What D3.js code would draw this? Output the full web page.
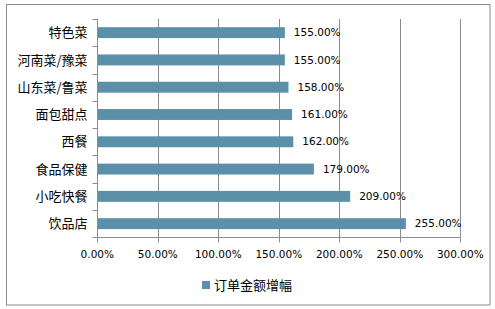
<!DOCTYPE html>
<html><head><meta charset="utf-8">
<script src="https://cdn.jsdelivr.net/npm/d3@7"></script>
<style>body{margin:0;background:#fff}svg{display:block}</style>
</head><body>
<svg id="c" width="495" height="309"></svg>
<script>
const categories = ["特色菜","河南菜/豫菜","山东菜/鲁菜","面包甜点","西餐","食品保健","小吃快餐","饮品店"];
const values = [155,155,158,161,162,179,209,255];
const ticks = [0,50,100,150,200,250,300];
const seriesName = "订单金额增幅";

const svg = d3.select("#c");
const W=495,H=309;
const m={left:97.3,right:460.3,top:19,bottom:237.3};
const color="#5b90a8", grid="#8c8c8c";
const cjk="'Noto Sans CJK SC','Noto Sans',sans-serif";
const num="'DejaVu Sans',sans-serif";

svg.append("rect").attr("x",6.5).attr("y",4.5).attr("width",483.5).attr("height",300.5)
  .attr("fill","#fff").attr("stroke",grid).attr("stroke-width",1);

const x=d3.scaleLinear().domain([0,300]).range([m.left,m.right]);
const y=d3.scaleBand().domain(categories).range([m.top,m.bottom]).paddingInner(0.6).paddingOuter(0.3);
const yb=d3.scaleBand().domain(categories).range([m.top,m.bottom]);

// gridlines
svg.append("g").selectAll("line").data(ticks.slice(1)).join("line")
  .attr("x1",d=>Math.round(x(d))+0.5).attr("x2",d=>Math.round(x(d))+0.5)
  .attr("y1",m.top).attr("y2",m.bottom).attr("stroke",grid).attr("stroke-width",1);

// bars
svg.append("g").selectAll("rect").data(values).join("rect")
  .attr("x",x(0)).attr("y",(d,i)=>y(categories[i]))
  .attr("width",d=>x(d)-x(0)).attr("height",y.bandwidth()).attr("fill",color);

// value labels
svg.append("g").selectAll("text").data(values).join("text")
  .attr("x",d=>x(d)+9).attr("y",(d,i)=>y(categories[i])+y.bandwidth()/2)
  .attr("dy","0.35em").attr("font-family",num).attr("font-size",10.5).attr("fill","#000")
  .text(d=>d.toFixed(2)+"%");

// y axis
const ya=svg.append("g").attr("transform",`translate(${Math.round(m.left)+0.5},0)`);
ya.append("line").attr("y1",m.top).attr("y2",m.bottom).attr("stroke",grid);
const bounds=categories.map(c=>yb(c)).concat([m.bottom]);
ya.selectAll("line.t").data(bounds).join("line").attr("class","t")
  .attr("x1",-5).attr("x2",0).attr("y1",d=>Math.round(d)+0.5).attr("y2",d=>Math.round(d)+0.5).attr("stroke",grid);
ya.selectAll("text").data(categories).join("text")
  .attr("x",-10).attr("y",d=>y(d)+y.bandwidth()/2).attr("dy","0.36em")
  .attr("text-anchor","end").attr("font-family",cjk).attr("font-size",13).attr("fill","#000")
  .text(d=>d);

// x axis
const xa=svg.append("g").attr("transform",`translate(0,${Math.round(m.bottom)+0.5})`);
xa.append("line").attr("x1",m.left).attr("x2",m.right).attr("stroke",grid);
xa.selectAll("line.t").data(ticks).join("line").attr("class","t")
  .attr("x1",d=>Math.round(x(d))+0.5).attr("x2",d=>Math.round(x(d))+0.5).attr("y1",0).attr("y2",5).attr("stroke",grid);
xa.selectAll("text").data(ticks).join("text")
  .attr("x",d=>x(d)).attr("y",17).attr("dy","0.35em").attr("text-anchor","middle")
  .attr("font-family",num).attr("font-size",10.5).attr("fill","#000")
  .text(d=>d.toFixed(2)+"%");

// legend
const lg=svg.append("g");
lg.append("rect").attr("x",202).attr("y",281).attr("width",8).attr("height",8).attr("fill",color);
lg.append("text").attr("x",214).attr("y",285).attr("dy","0.36em")
  .attr("font-family",cjk).attr("font-size",13).attr("fill","#000").text(seriesName);
</script>
</body></html>
